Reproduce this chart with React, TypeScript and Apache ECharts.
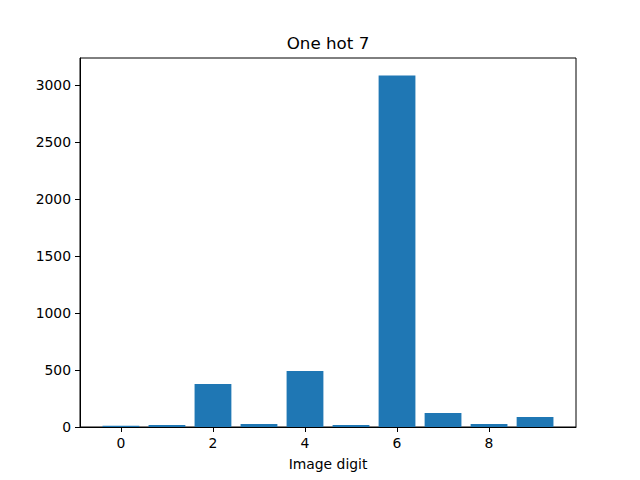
import React, { useEffect, useRef } from "react";
import * as echarts from "echarts";

const digits = [0, 1, 2, 3, 4, 5, 6, 7, 8, 9];
const counts = [10, 18, 376, 27, 490, 18, 3080, 122, 27, 88];
const xTicks = [0, 2, 4, 6, 8];
const yTicks = [0, 500, 1000, 1500, 2000, 2500, 3000];

const FONT = "DejaVu Sans";
const TICK = 5;
const X_MIN = -0.89;
const X_MAX = 9.89;

export default function App() {
  const ref = useRef<HTMLDivElement>(null);
  useEffect(() => {
    const chart = echarts.init(ref.current!, null, { renderer: "svg" });
    const yMax = Math.max(...counts) * 1.05;
    const title = {
      type: "text",
      x: 328,
      y: 43,
      style: {
        text: "One hot 7",
        font: `16.7px ${FONT}`,
        fill: "#000",
        textAlign: "center",
        textVerticalAlign: "middle",
      },
    };
    chart.setOption({
      animation: false,
      backgroundColor: "#ffffff",
      grid: {
        left: 80,
        right: 64,
        top: 58,
        bottom: 53,
        show: true,
        borderColor: "#000000",
        borderWidth: 1,
        backgroundColor: "transparent",
        outerBoundsMode: "none",
        containLabel: false,
      },
      graphic: [title],
      xAxis: {
        type: "value",
        min: X_MIN,
        max: X_MAX,
        name: "Image digit",
        nameLocation: "middle",
        nameGap: 30,
        nameTextStyle: { fontFamily: FONT, fontSize: 13.9, color: "#000" },
        axisLine: { show: true, onZero: false, lineStyle: { color: "#000", width: 1 } },
        splitLine: { show: false },
        axisTick: { show: false },
        axisLabel: {
          customValues: xTicks,
          margin: 9,
          fontFamily: FONT,
          fontSize: 13.9,
          color: "#000",
          formatter: (v: number) => String(v),
        },
      },
      yAxis: {
        type: "value",
        min: 0,
        max: yMax,
        axisLine: { show: true, onZero: false, lineStyle: { color: "#000", width: 1 } },
        splitLine: { show: false },
        axisTick: { show: false },
        axisLabel: {
          customValues: yTicks,
          margin: 9,
          fontFamily: FONT,
          fontSize: 13.9,
          color: "#000",
          formatter: (v: number) => String(v),
        },
      },
      series: [
        {
          type: "custom",
          data: digits.map((d, i) => [d, counts[i]]),
          renderItem: (params: any, api: any) => {
            const x = api.value(0);
            const y = api.value(1);
            const p1 = api.coord([x - 0.4, y]);
            const p2 = api.coord([x + 0.4, 0]);
            return {
              type: "rect",
              shape: { x: p1[0], y: p1[1], width: p2[0] - p1[0], height: p2[1] - p1[1] },
              style: { fill: "#1f77b4" },
            };
          },
        },
      ],
    });
    const ticks: any[] = [];
    xTicks.forEach((v) => {
      const p = chart.convertToPixel({ gridIndex: 0 }, [v, 0]) as number[];
      ticks.push({
        type: "rect",
        shape: { x: Math.round(p[0]), y: Math.round(p[1]), width: 1, height: TICK },
        style: { fill: "#000000" },
        z: 100,
      });
    });
    yTicks.forEach((v) => {
      const p = chart.convertToPixel({ gridIndex: 0 }, [X_MIN, v]) as number[];
      ticks.push({
        type: "rect",
        shape: { x: Math.round(p[0]) - TICK, y: Math.round(p[1]), width: TICK, height: 1 },
        style: { fill: "#000000" },
        z: 100,
      });
    });
    chart.setOption({ graphic: [title, ...ticks] }, { replaceMerge: ["graphic"] });
    return () => chart.dispose();
  }, []);
  return <div ref={ref} style={{ width: 640, height: 480, position: "absolute", left: 0, top: 0 }} />;
}
